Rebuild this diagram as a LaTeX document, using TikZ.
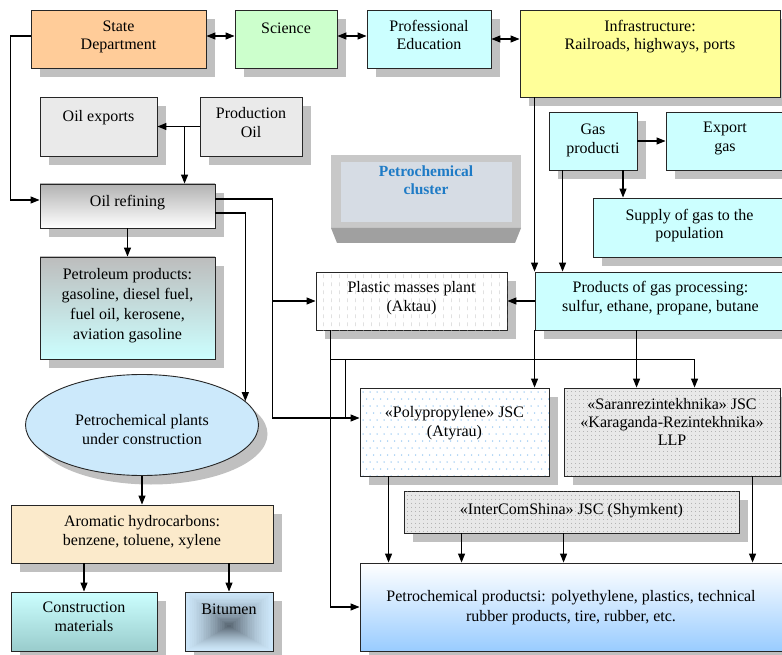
\documentclass[tikz,border=0pt]{standalone}
\usepackage{fontspec}
\setmainfont{Liberation Serif}
\usetikzlibrary{arrows.meta,shapes.geometric,shadows,patterns,patterns.meta,calc}
\definecolor{shd}{HTML}{C0C0C0}
\definecolor{sdOrange}{HTML}{FFCC99}
\definecolor{sciGreen}{HTML}{CCFFCC}
\definecolor{cyanBox}{HTML}{CCFFFF}
\definecolor{infraYellow}{HTML}{FFFF99}
\definecolor{grayBox}{HTML}{EAEAEA}
\definecolor{ellBlue}{HTML}{CCE9FB}
\definecolor{aromPeach}{HTML}{FBEACB}
\definecolor{cmBot}{HTML}{99CCCC}
\definecolor{bitLight}{HTML}{CCE6F8}
\definecolor{bitDark}{HTML}{4E5A66}
\definecolor{ppBot}{HTML}{99CCFF}
\definecolor{dotBlue}{HTML}{8EC3F2}
\definecolor{dotGray}{HTML}{7F7F7F}
\definecolor{sarFill}{HTML}{E8E8E8}
\definecolor{clOut}{HTML}{C8C8C8}
\definecolor{clBot}{HTML}{A0A0A0}
\definecolor{clIn}{HTML}{D6DCE4}
\definecolor{clBlue}{HTML}{1E7BC6}
\pgfdeclarepatternformonly{vdash}{\pgfpointorigin}{\pgfpoint{8pt}{8pt}}{\pgfpoint{8pt}{8pt}}{%
  \pgfsetlinewidth{0.6pt}%
  \pgfpathmoveto{\pgfpoint{4pt}{1pt}}\pgfpathlineto{\pgfpoint{4pt}{5pt}}\pgfusepath{stroke}}
\begin{document}
\begin{tikzpicture}[x=1pt,y=-1pt,
  bx/.style={draw=black!85, line width=0.9pt, rectangle, inner sep=0pt,
    drop shadow={shadow xshift=9pt,shadow yshift=-9pt,fill=shd,opacity=1}},
  txt/.style={inner sep=0pt, align=center, anchor=north,
    font=\fontsize{16}{19}\selectfont, execute at begin node=\strut},
  ln/.style={line width=1.1pt, draw=black},
  arr/.style={ln, -{Triangle[length=9pt,width=7pt]}},
  darr/.style={ln, {Triangle[length=9pt,width=7pt]}-{Triangle[length=9pt,width=7pt]}},
]
\useasboundingbox (0,0) rectangle (782,655);
\clip (0,0) rectangle (782,655);
\fill[white] (0,0) rectangle (782,655);

% ---------- boxes ----------
\node[bx, fill=sdOrange, minimum width=175, minimum height=58] (sd) at (118.5,39) {};
\node[bx, fill=sciGreen, minimum width=102, minimum height=58] (sci) at (286,39) {};
\node[bx, fill=cyanBox, minimum width=124, minimum height=58] (pe) at (429,39) {};
\node[bx, fill=infraYellow, minimum width=260, minimum height=87] (infra) at (650,53.5) {};
\node[bx, fill=grayBox, minimum width=117, minimum height=59] (oilexp) at (98.5,126.5) {};
\node[bx, fill=grayBox, minimum width=102, minimum height=59] (prod) at (251,126.5) {};
\node[bx, top color=black!30, bottom color=white, minimum width=175, minimum height=44] (oilref) at (127.5,206) {};
\node[bx, top color=black!26, bottom color=cyanBox, minimum width=175, minimum height=102] (petro) at (127.5,308) {};
\node[bx, ellipse, fill=ellBlue, minimum width=233, minimum height=101] (pce) at (142,425) {};
\node[bx, fill=aromPeach, minimum width=262, minimum height=58] (arom) at (142,534) {};
\node[bx, top color=cyanBox, bottom color=cmBot, minimum width=146, minimum height=59] (cm) at (84,621.5) {};
\node[bx, fill=bitLight, minimum width=88, minimum height=59] (bit) at (229,621.5) {};
\coordinate (bc) at (229,626);
\foreach \t in {1,...,24}{
  \pgfmathsetmacro\s{1-\t/25}
  \pgfmathsetmacro\p{95*(\t/25)^1.4}
  \fill[bitDark!\p!bitLight] ($(bc)!\s!([shift={(0.6,0.6)}]bit.north west)$) rectangle ($(bc)!\s!([shift={(-0.6,-0.6)}]bit.south east)$);
}
\node[bx, fill=cyanBox, minimum width=88, minimum height=58] (gasp) at (593,141) {};
\node[bx, fill=cyanBox, minimum width=118, minimum height=58] (exp) at (725,141) {};
\node[bx, fill=cyanBox, minimum width=193, minimum height=59] (supply) at (689.5,227.5) {};
\node[bx, fill=cyanBox, minimum width=251, minimum height=58] (gpp) at (660.5,301) {};
\node[bx, fill=white, postaction={pattern color=black!18, pattern=vdash}, minimum width=191, minimum height=58] (plastic) at (411.5,301) {};
\node[bx, fill=white, minimum width=189, minimum height=88] (pp) at (454.5,432) {};
\begin{scope}
  \clip ([shift={(0.6,0.6)}]pp.north west) rectangle ([shift={(-0.6,-0.6)}]pp.south east);
  \foreach \j in {0,...,12}{
    \foreach \i in {0,...,27}{
      \fill[dotBlue] ({363+7*\i+3.5*mod(\j,2)},{392+7*\j}) circle (0.75);
    }
  }
\end{scope}
\node[bx, fill=sarFill, postaction={pattern color=dotGray, pattern={Dots[distance=4pt,radius=0.45pt]}}, minimum width=216, minimum height=88] (sar) at (672,432) {};
\node[bx, fill=sarFill, postaction={pattern color=dotGray, pattern={Dots[distance=4pt,radius=0.45pt]}}, minimum width=335, minimum height=42] (ics) at (571.5,512) {};
\node[bx, top color=white, bottom color=ppBot, minimum width=422, minimum height=88] (pprod) at (571,607) {};

% ---------- cluster ----------
\fill[clOut] (331,155) rectangle (521,228);
\fill[clBot] (331,228) -- (521,228) -- (515,243) -- (337,243) -- cycle;
\fill[clIn] (341,162) rectangle (512,222);
\node[txt, font=\fontsize{15.5}{18}\selectfont\bfseries, text=clBlue] (cluster) at (426,172-6.7) {Petrochemical\\cluster};

% ---------- texts ----------
\node[txt, font=\fontsize{16}{18}\selectfont] (t-sd) at (118.5,27-6.7) {State\\Department};
\node[txt] (t-sci) at (286,27-6.7) {Science};
\node[txt, font=\fontsize{16}{18}\selectfont] (t-pe) at (429,27-6.7) {Professional\\Education};
\node[txt, font=\fontsize{16}{18}\selectfont] (t-infra) at (650,27-6.7) {Infrastructure:\\Railroads, highways, ports};
\node[txt] (t-oilexp) at (98.5,115-6.7) {Oil exports};
\node[txt] (t-prod) at (251,114-6.7) {Production\\Oil};
\node[txt] (t-oilref) at (127.5,200-6.7) {Oil refining};
\node[txt, font=\fontsize{16}{20}\selectfont] (t-petro) at (127.5,275-6.7) {Petroleum products:\\gasoline, diesel fuel,\\fuel oil, kerosene,\\aviation gasoline};
\node[txt] (t-pce) at (142,421-6.7) {Petrochemical plants\\under construction};
\node[txt] (t-arom) at (142,522-6.7) {Aromatic hydrocarbons:\\benzene, toluene, xylene};
\node[txt] (t-cm) at (84,608-6.7) {Construction\\materials};
\node[txt] (t-bit) at (229,608-6.7) {Bitumen};
\node[txt] (t-gasp) at (593,130-6.7) {Gas\\producti};
\node[txt] (t-exp) at (725,129-6.7) {Export\\gas};
\node[txt, font=\fontsize{16}{18}\selectfont] (t-supply) at (689.5,216-6.7) {Supply of gas to the\\population};
\node[txt] (t-gpp) at (660.5,288-6.7) {Products of gas processing:\\sulfur, ethane, propane, butane};
\node[txt] (t-plastic) at (411.5,288-6.7) {Plastic masses plant\\(Aktau)};
\node[txt] (t-pp) at (454.5,413-6.7) {«Polypropylene» JSC\\(Atyrau)};
\node[txt, font=\fontsize{16}{18}\selectfont] (t-sar) at (672,405-6.7) {«Saranrezintekhnika» JSC\\«Karaganda-Rezintekhnika»\\LLP};
\node[txt] (t-ics) at (571.5,508-6.7) {«InterComShina» JSC (Shymkent)};
\node[txt, font=\fontsize{16}{20}\selectfont] (t-pprod) at (571,597-6.7) {Petrochemical productsi: polyethylene, plastics, technical\\rubber products, tire, rubber, etc.};

% ---------- connectors ----------
\draw[darr] ([yshift=3pt]sd.east) -- ([yshift=3pt]sci.west);
\draw[darr] ([yshift=3pt]sci.east) -- ([yshift=3pt]pe.west);
\draw[darr] (pe.east) -- (pe.east -| infra.west);
\draw[arr] ([yshift=3pt]sd.west) -- ++(-20,0) |- ([yshift=6pt]oilref.west);

\draw[arr] (prod.west) -- (oilexp.east);
\coordinate (pj) at ([xshift=-15pt]prod.west);
\draw[arr] (pj) -- (pj |- oilref.north);
\draw[arr] (oilref.south) -- (petro.north);

\coordinate (vx) at ([xshift=57pt]oilref.east);
\coordinate (ppin) at ([yshift=14pt]pp.west);
\draw[arr] ([yshift=7pt]oilref.east) -| (ppin -| vx) -- (ppin);
\draw[arr] (vx |- plastic.west) -- (plastic.west);
\coordinate (oil2) at ([yshift=-7pt]oilref.east);
\draw[arr] (oil2) -| (pce.13.5);

\coordinate (ix) at ([xshift=15pt]infra.south west);
\draw[arr] (ix) -- (ix |- gpp.north);
\coordinate (gx) at ([xshift=14pt]gasp.south west);
\draw[arr] (gx) -- (gx |- gpp.north);
\draw[arr] (gasp.east) -- (exp.west);
\coordinate (gs) at ([xshift=30pt]gasp.south);
\draw[arr] (gs) -- (gs |- supply.north);
\draw[arr] (gpp.west) -- (plastic.east);
\draw[arr] (gpp.south west) -- (gpp.south west |- pp.north);
\coordinate (gq) at ([xshift=102pt]gpp.south west);
\draw[arr] (gq) -- (gq |- sar.north);

\coordinate (pl) at ([xshift=15pt]plastic.south west);
\draw[arr] (pl) |- (pprod.west);
\coordinate (hb) at ($(pl)+(0,29)$);
\coordinate (sx) at ([xshift=131pt]sar.north west);
\draw[arr] (hb) -| (sx);
\coordinate (hb2) at ($(hb)+(15,0)$);
\draw[ln] (hb2) -- (hb2 |- ppin);

\coordinate (p1) at ([xshift=29pt]pp.south west);
\draw[arr] (p1) -- (p1 |- pprod.north);
\coordinate (i1) at ([xshift=58pt]ics.south west);
\draw[arr] (i1) -- (i1 |- pprod.north);
\coordinate (i2) at ([xshift=160pt]ics.south west);
\draw[arr] (i2) -- (i2 |- pprod.north);
\coordinate (s1) at ([xshift=189pt]sar.south west);
\draw[arr] (s1) -- (s1 |- pprod.north);

\draw[arr] (pce.south) -- (arom.north);
\draw[arr] (cm.north |- arom.south) -- (cm.north);
\draw[arr] (bit.north |- arom.south) -- (bit.north);
\end{tikzpicture}
\end{document}
